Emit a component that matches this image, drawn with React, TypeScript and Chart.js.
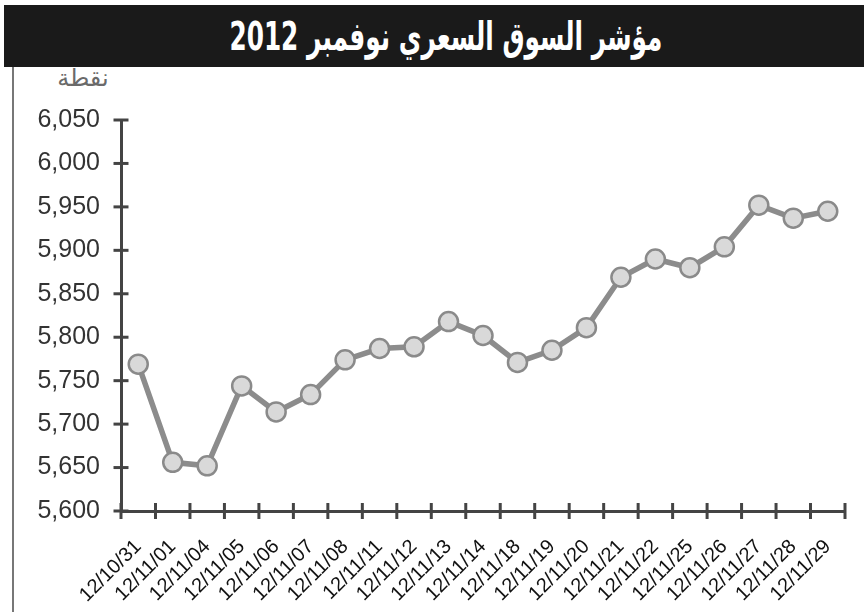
import React, { useEffect, useRef } from "react";
import { Chart, registerables } from "chart.js";

Chart.register(...registerables);

const titleText = "مؤشر السوق السعري نوفمبر 2012";
const unitLabel = "نقطة";

const categories = [
  "12/10/31", "12/11/01", "12/11/04", "12/11/05", "12/11/06", "12/11/07",
  "12/11/08", "12/11/11", "12/11/12", "12/11/13", "12/11/14", "12/11/18",
  "12/11/19", "12/11/20", "12/11/21", "12/11/22", "12/11/25", "12/11/26",
  "12/11/27", "12/11/28", "12/11/29",
];

const indexValues = [
  5769, 5656, 5652, 5744, 5714, 5734, 5774, 5787, 5789, 5818, 5802, 5771,
  5785, 5811, 5869, 5890, 5880, 5904, 5952, 5937, 5945,
];

const yMin = 5600;
const yMax = 6050;
const yStep = 50;

const crossTicks = {
  id: "crossTicks",
  afterDraw(chart: any) {
    const { ctx, chartArea, scales } = chart;
    const xs = scales.x;
    const ys = scales.y;
    ctx.save();
    ctx.strokeStyle = "#444";
    ctx.lineWidth = 3;
    const line = (x1: number, y1: number, x2: number, y2: number) => {
      ctx.beginPath();
      ctx.moveTo(x1, y1);
      ctx.lineTo(x2, y2);
      ctx.stroke();
    };
    ys.ticks.forEach((t: any) => {
      const py = ys.getPixelForValue(t.value);
      line(chartArea.left - 7.5, py, chartArea.left + 7.5, py);
    });
    const n = categories.length;
    for (let i = 0; i <= n; i++) {
      const px =
        i === 0
          ? chartArea.left
          : i === n
          ? chartArea.right
          : (xs.getPixelForValue(i - 1) + xs.getPixelForValue(i)) / 2;
      line(px, chartArea.bottom - 8, px, chartArea.bottom + 8);
    }
    ctx.restore();
  },
};

export default function App() {
  const canvasRef = useRef<HTMLCanvasElement | null>(null);

  useEffect(() => {
    if (!canvasRef.current) return;
    const chart = new Chart(canvasRef.current, {
      type: "line",
      data: {
        labels: categories,
        datasets: [
          {
            data: indexValues,
            borderColor: "#8c8c8c",
            borderWidth: 5.5,
            tension: 0,
            pointRadius: 9.5,
            pointBorderWidth: 2.5,
            pointBorderColor: "#8a8a8a",
            pointBackgroundColor: "#d9d9d9",
          },
        ],
      },
      options: {
        animation: false,
        responsive: false,
        maintainAspectRatio: false,
        layout: { padding: { top: 53, right: 19, left: 0, bottom: 0 } },
        plugins: {
          legend: { display: false },
          tooltip: { enabled: false },
          title: { display: false },
        },
        scales: {
          x: {
            offset: true,
            grid: { display: true, drawOnChartArea: false, drawTicks: false, offset: true },
            border: { display: true, color: "#444", width: 3 },
            ticks: {
              autoSkip: false,
              maxRotation: 45,
              minRotation: 45,
              padding: 24,
              color: "#111",
              font: { family: "'Liberation Sans', Arial, sans-serif", size: 20 },
            },
            afterFit: (scale: any) => {
              scale.height = 101;
              scale.paddingLeft = 0;
              scale.paddingRight = 0;
            },
          },
          y: {
            min: yMin,
            max: yMax,
            grid: { display: true, drawOnChartArea: false, drawTicks: false },
            border: { display: true, color: "#444", width: 3 },
            ticks: {
              stepSize: yStep,
              padding: 21,
              color: "#333",
              font: { family: "'Liberation Sans', Arial, sans-serif", size: 25 },
              callback: (v: any) => Number(v).toLocaleString("en-US"),
            },
            afterFit: (scale: any) => {
              scale.width = 107;
            },
          },
        },
      },
      plugins: [crossTicks],
    });
    return () => chart.destroy();
  }, []);

  return (
    <div
      style={{
        position: "fixed",
        left: 0,
        top: 0,
        width: 864,
        height: 612,
        background: "#fff",
        overflow: "hidden",
      }}
    >
      <div
        style={{
          position: "absolute",
          left: 4,
          top: 5,
          width: 860,
          height: 62,
          background: "#1a1a1a",
          color: "#fff",
          display: "flex",
          alignItems: "center",
          justifyContent: "center",
          paddingLeft: 24,
          boxSizing: "border-box",
        }}
      >
        <span
          dir="rtl"
          style={{
            display: "inline-block",
            fontFamily: "'DejaVu Sans', sans-serif",
            fontWeight: "bold",
            fontSize: 39,
            lineHeight: 1,
            whiteSpace: "nowrap",
            transform: "scaleX(0.635)",
            transformOrigin: "center",
          }}
        >
          {titleText}
        </span>
      </div>
      <div
        style={{
          position: "absolute",
          left: 12,
          top: 67,
          width: 2,
          height: 545,
          background: "#777",
        }}
      />
      <div
        dir="rtl"
        style={{
          position: "absolute",
          left: 50,
          top: 64,
          width: 66,
          textAlign: "center",
          color: "#6a6a6a",
          fontFamily: "'DejaVu Sans', sans-serif",
          fontSize: 24,
        }}
      >
        {unitLabel}
      </div>
      <canvas
        ref={canvasRef}
        width={850}
        height={545}
        style={{ position: "absolute", left: 14, top: 67, width: 850, height: 545 }}
      />
    </div>
  );
}
